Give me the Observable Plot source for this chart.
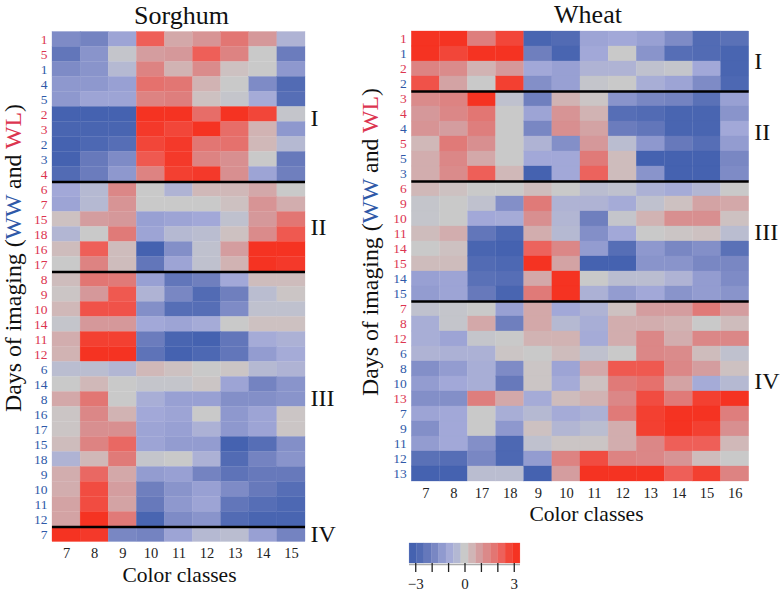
<!DOCTYPE html>
<html>
<head>
<meta charset="utf-8">
<script src="https://cdn.jsdelivr.net/npm/d3@7"></script>
<script src="https://cdn.jsdelivr.net/npm/@observablehq/plot@0.6"></script>
<style>
html,body{margin:0;padding:0;background:#fff;}
#page{position:relative;width:780px;height:591px;overflow:hidden;font-family:"Liberation Serif",serif;}
#page svg{position:absolute;background:transparent;}
.ytitle{position:absolute;white-space:nowrap;font-size:23.8px;color:#111;transform:translate(-50%,-50%) rotate(-90deg);line-height:1;}
</style>
</head>
<body>
<div id="page"></div>
<script>
const WW = "#2f59a8", WL = "#dc3550";
const serif = "Liberation Serif";

const colorStops = [-3, -2, -1, -0.4, 0, 0.4, 1, 1.7, 2.3, 3];
const colorRange = ["#4562b0", "#6f7fbe", "#a2a8d8", "#b5b9d2", "#c9c9c9", "#d0b8b8", "#d5989a", "#e07a78", "#ee5f58", "#f53322"];

const sorghumClasses = ["7","8","9","10","11","12","13","14","15"];
const sorghumDays = ["1","5","1","4","5","2","3","2","3","4","6","7","15","18","16","17","8","9","10","14","11","12","6","14","8","16","17","15","18","9","10","11","12","7"];
const sorghumTreat = ["L","L","W","W","W","L","L","W","W","L","L","L","L","L","L","L","L","L","L","L","L","L","W","W","W","W","W","W","W","W","W","W","W","W"];
const sorghumValues = [
[-1.7,-1.9,-1.1,2.3,0.7,1.1,1.8,1.0,-0.6],
[-2.3,-1.5,-0.1,0.9,1.0,2.3,1.5,0,-2.1],
[-1.7,-1.5,-0.4,1.5,0.5,1.3,0.2,0,-1.4],
[-1.4,-1.4,-1.2,1.9,1.8,0.5,0,-1.7,-2.7],
[-1.4,-1.1,-1.1,1.5,1.6,0.2,-0.1,-0.9,-2.6],
[-3,-3,-3,3,3,2.0,3,2.7,-0.1],
[-2.9,-2.9,-2.9,2.9,2.7,3,2.0,0.5,-1.4],
[-3,-2.8,-2.6,2.7,2.9,1.8,1.9,0.4,-0.4],
[-3,-2.2,-1.7,2.4,2.9,1.5,1.2,0,-2.2],
[-2.7,-2.1,-1.4,1.5,2.8,2.9,1.2,-1.1,-2.0],
[-1,-0.4,1.4,0,-0.6,0.4,0.4,0.7,0],
[-1.1,-0.4,1.1,0,0,0,0.2,1.1,0.6],
[0.2,0.9,1,-1.2,-1.1,-1,-0.2,1,1.8],
[-0.5,0,1.7,-1.1,-0.4,-0.3,0.2,1.3,2.4],
[0.3,2.3,0.3,-3,-1.6,-0.2,0.9,3,3],
[0,1.5,0.3,-2.3,-1.1,-0.2,0.5,3,2.9],
[0.3,1.8,1.7,-1.2,-2.3,-2,-1,0.3,0.3],
[0.1,1,2.4,-0.6,-1.8,-2.7,-2.0,-0.3,0.1],
[0.4,2.5,2.5,-1.6,-2.6,-2.6,-1.7,-0.2,-0.2],
[-0.1,1,1,-1,-1.1,-0.9,0,0.2,0.2],
[0.6,2.8,2.8,-2.1,-2.9,-3,-2.3,-0.9,-0.7],
[0.5,3,3,-2.4,-3,-2.8,-2.3,-1.3,-0.9],
[-0.3,-0.3,-0.5,0.4,0.2,0,0.1,-0.4,-0.6],
[0,0.4,0,-0.1,-0.1,0.1,-1.1,-1.9,-1.5],
[0.7,1.8,0,-0.8,-1.2,-1.2,-1.6,-1.6,-1.5],
[0.1,1.4,0.5,-1,-1.1,0,-1.4,-1.1,0.1],
[0.1,1.2,1.2,-1.1,-1.2,-0.7,-1.4,-1.1,0.1],
[0.3,1.5,2.1,-1.1,-1.3,-1.3,-3,-2.6,-1.6],
[-0.6,0.4,1.7,-0.1,0,-0.7,-2.7,-1.9,-1.5],
[0.6,2.1,0.7,-1.3,-1.2,-1.9,-2.4,-2.2,-2.2],
[0.6,2.6,0.9,-2,-1.5,-1.2,-1.7,-2.2,-2.6],
[0.8,2.6,0.8,-2.2,-1.4,-1.1,-2.3,-2.6,-2.8],
[0.8,3,1.7,-2.9,-1.7,-1.5,-2.7,-2.9,-2.9],
[3,2.9,-1.8,-1.9,-1.1,-0.4,-0.3,-1.2,-1.9]
];
const sorghumBreaks = [10, 16, 33];
const sorghumGroups = ["I","II","III","IV"];
const sorghumGroupRows = [5.75,13,24.45,33.5];

const wheatClasses = ["7","8","17","18","9","10","11","12","13","14","15","16"];
const wheatDays = ["1","1","2","2","3","4","4","5","5","3","6","9","10","11","14","15","14","15","7","8","12","6","8","10","13","7","9","11","12","13"];
const wheatTreat = ["L","W","L","W","L","L","W","L","W","W","L","L","L","L","L","L","W","W","L","L","L","W","W","W","L","W","W","W","W","W"];
const wheatValues = [
[3,3,1.6,2.7,-2.9,-2.7,-1.1,-1,-1.2,-1.7,-2.7,-2.5],
[3,2.7,3,3,-2,-2.9,-1,0,-1.5,-2.6,-2.7,-2.9],
[1.5,1.3,0.5,1,-1,-1.2,-0.6,-0.6,-0.2,-0.1,-1,-2.9],
[2.5,0.8,0,2.8,-1.6,-1.2,-0.1,0,-0.8,-1.1,-1.7,-2.8],
[1.3,1.5,3,-0.2,-2,0.5,0.1,-1.5,-1.8,-1.9,-2.5,-1.2],
[1,1.4,1.8,0,-1.1,1.1,0.5,-2.6,-2.7,-2.9,-2.9,-1.5],
[1.1,0.9,1.6,0,-1.8,1.2,0.8,-2.1,-2.3,-2.9,-2.9,-1],
[0.4,1.7,1.2,0,-0.6,-1.6,1,-0.3,-1.4,-2.2,-2.6,-1.3],
[0.6,1.4,0.7,0,-1,-1,1.7,0.3,-3,-3,-3,-1.8],
[0.6,1.3,2.3,0.4,-3,-1,2.2,0.3,-1.5,-3,-3,-1.7],
[0.4,0.2,0,0,0.3,0,-0.3,-0.2,-0.7,-0.9,-0.5,0],
[-0.1,0,-0.2,-1.6,1.7,-0.6,-0.6,-0.9,-0.2,0.2,0.8,0.7],
[-0.1,0,-1,-0.9,1.2,-0.5,-2,-0.1,0.5,1.2,1.2,0.2],
[0.3,0.6,-2.3,-2.8,0.6,-0.4,-1.6,-1,0,0.1,0.2,-0.3],
[0,0.2,-2.9,-3,2.2,1.4,-1.3,-2.6,-1.4,-1.8,-1.6,-2.5],
[0.3,0.3,-2.7,-2.8,3,0.8,-3,-3,-1.5,-1.5,-1.8,-1.8],
[-1.2,-1.1,-2.5,-2.6,0.7,3,0,-0.3,-0.3,-0.6,-1.3,-1.7],
[-1.3,-1.1,-2.2,-2.9,1.7,3,-0.7,-1.3,-1,-1.5,-1.3,-1.5],
[-0.2,-0.1,0,-1.2,0.7,-1,-0.6,0.2,0.9,0.9,1.7,0.9],
[-0.8,-0.1,0.7,-2,0.7,-0.4,-0.8,0.6,0.6,0.5,0,0.3],
[-0.8,-1.1,-0.1,0,0.5,0.5,-0.9,0.6,1.4,0.6,1.4,1.4],
[-0.6,-0.7,-0.7,0.1,0,0.3,-0.2,0,1.4,1.3,0.3,-0.2],
[-1.6,-1.3,-0.8,-1.7,0.1,-1.1,0.7,2.4,2.4,1.4,0.9,0.2],
[-1.3,-1,-0.8,-2.2,0.1,-0.9,0.2,1.7,1.9,0.8,-0.9,-0.4],
[-1.6,-1.6,1.6,0.7,-0.9,0.3,0.5,1.4,2.6,1.7,2.8,3],
[-1.1,-1,0,-0.8,-0.4,-0.9,-0.7,1.7,2.8,3,3,1.6],
[-1.6,-1,0,-1.4,0.2,-0.5,-0.3,0.6,2.8,3,2.8,1.2],
[-1.3,-1,-1.6,-2.8,-0.2,0.1,0.1,0.6,1.4,2.3,2.3,0.4],
[-2.5,-2.6,-1.8,-2.8,-1.3,1.5,2.6,1.5,1.4,1.1,0.3,0],
[-3,-3,-0.3,-0.3,-3,0.9,3,3,3,2.3,2.8,1.5]
];
const wheatBreaks = [4, 10, 18];
const wheatGroups = ["I","II","III","IV"];
const wheatGroupRows = [2,6.75,13.4,23.3];

const legendBins = [-3.15,-2.7,-2.25,-1.8,-1.35,-0.9,-0.45,0,0.45,0.9,1.35,1.8,2.25,2.7,3.15];
const legendTicks = [-3,-2,-1,0,1,2,3];
const legendLabels = [-3,0,3];

const page = document.getElementById("page");
const colorScale = {type:"linear", domain:colorStops, range:colorRange, clamp:true};

function heatmap({title, classes, days, treat, values, breaks, groups, groupRows, left, width, marginLeft, marginRight, top, titleX, xTitleX}) {
  const cells = values.flatMap((row, r) => row.map((v, c) => ({r, c:classes[c], v})));
  const rows = d3.range(days.length);
  const rowH = 15;
  const height = top + rowH * days.length + 48;
  const svg = Plot.plot({
    width, height, marginLeft, marginRight, marginTop: top, marginBottom: 48,
    style:{fontFamily:serif, background:"transparent", overflow:"visible"},
    x:{domain:classes, padding:0, round:false, axis:null},
    y:{domain:rows, padding:0, round:false, axis:null},
    color:colorScale,
    marks:[
      Plot.cell(cells, {x:"c", y:"r", fill:"v", stroke:"v", strokeWidth:0.3}),
      Plot.ruleY(breaks, {y:d=>d, dy:-rowH/2, stroke:"#000", strokeWidth:2.6}),
      Plot.axisY(rows, {anchor:"left", tickSize:0, tickPadding:5, label:null,
        tickFormat:d=>days[d], fill:d=>treat[d]==="W"?WW:WL, fontSize:13.5}),
      Plot.axisX(classes, {anchor:"bottom", tickSize:0, tickPadding:6, label:null, fontSize:14.5, fill:"#222"}),
      ...groups.map((g,i)=>Plot.text([g], {frameAnchor:"top-right", textAnchor:"start", lineAnchor:"middle",
        dx:5, dy:groupRows[i]*rowH, fontSize:24, fill:"#111"})),
      Plot.text([title], {frameAnchor:"top-left", textAnchor:"middle", lineAnchor:"middle", dx:titleX-marginLeft, dy:-16.5, fontSize:26, fill:"#111"}),
      Plot.text(["Color classes"], {frameAnchor:"bottom-left", textAnchor:"middle", lineAnchor:"middle", dx:xTitleX-marginLeft, dy:33, fontSize:21.5, fill:"#111"})
    ]
  });
  svg.style.left = left + "px";
  svg.style.top = "0px";
  page.appendChild(svg);
}

heatmap({title:"Sorghum", classes:sorghumClasses, days:sorghumDays, treat:sorghumTreat, values:sorghumValues,
  breaks:sorghumBreaks, groups:sorghumGroups, groupRows:sorghumGroupRows, left:0, width:340, marginLeft:52, marginRight:35, top:31.5, titleX:181, xTitleX:179});
heatmap({title:"Wheat", classes:wheatClasses, days:wheatDays, treat:wheatTreat, values:wheatValues,
  breaks:wheatBreaks, groups:wheatGroups, groupRows:wheatGroupRows, left:350, width:430, marginLeft:61.3, marginRight:31.3, top:31, titleX:237.5, xTitleX:236});

function yTitle(x, y) {
  const d = document.createElement("div");
  d.className = "ytitle";
  d.style.left = x + "px";
  d.style.top = y + "px";
  d.innerHTML = 'Days of imaging (<span style="color:'+WW+'">WW</span> and <span style="color:'+WL+'">WL</span>)';
  page.appendChild(d);
}
yTitle(14, 258);
yTitle(371, 242);

const legend = Plot.plot({
  width:130, height:56, marginLeft:9, marginRight:10, marginTop:8, marginBottom:28,
  style:{fontFamily:serif, background:"transparent", overflow:"visible"},
  x:{type:"linear", domain:[-3.38,3.38], axis:null},
  y:{axis:null, domain:[0,1]},
  color:colorScale,
  marks:[
    Plot.rectY(legendBins, {x1:d=>d-0.225, x2:d=>d+0.225, y1:0, y2:1, fill:d=>d, stroke:d=>d, strokeWidth:0.3}),
    Plot.ruleY([0], {stroke:"#aaa", strokeWidth:1.4, dy:1}),
    Plot.axisX(legendTicks, {anchor:"bottom", tickSize:9, tickPadding:3, stroke:"#222", strokeWidth:1.3, text:null, label:null}),
    Plot.axisX(legendLabels, {anchor:"bottom", tickSize:0, tickPadding:15, fontSize:15, fill:"#222", label:null, tickFormat:d=>d<0?"\u2212"+Math.abs(d):String(d)})
  ]
});
legend.style.left = "400px";
legend.style.top = "535px";
page.appendChild(legend);
</script>
</body>
</html>
